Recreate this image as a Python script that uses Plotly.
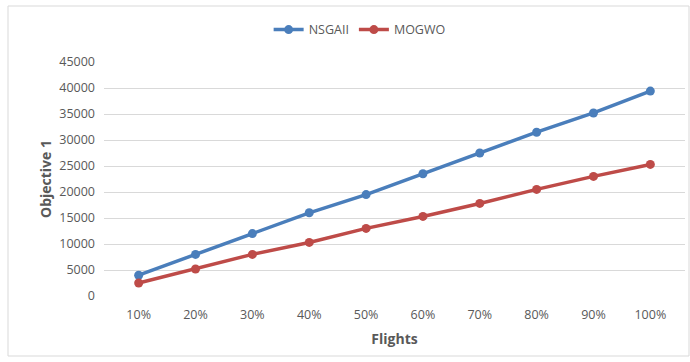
import plotly.graph_objects as go

flights = ["10%", "20%", "30%", "40%", "50%", "60%", "70%", "80%", "90%", "100%"]
nsgaii = [4000, 8000, 12000, 16000, 19500, 23500, 27500, 31500, 35200, 39400]
mogwo = [2500, 5200, 8000, 10300, 13000, 15300, 17800, 20500, 23000, 25300]
y_ticks = [0, 5000, 10000, 15000, 20000, 25000, 30000, 35000, 40000, 45000]

font_family = "Open Sans, Noto Sans, sans-serif"
text_gray = "#595959"

fig = go.Figure()
fig.add_trace(go.Scatter(
    x=flights, y=nsgaii, name="NSGAII", mode="lines+markers",
    line=dict(color="#4A7EBB", width=3.5),
    marker=dict(color="#4A7EBB", size=9),
))
fig.add_trace(go.Scatter(
    x=flights, y=mogwo, name="MOGWO", mode="lines+markers",
    line=dict(color="#BE4B48", width=3.5),
    marker=dict(color="#BE4B48", size=9),
))

fig.update_layout(
    width=690, height=362,
    margin=dict(l=104, r=5, t=62, b=66),
    paper_bgcolor="white", plot_bgcolor="white",
    font=dict(family=font_family, size=12, color=text_gray),
    showlegend=True,
    legend=dict(
        orientation="h", x=0.44, y=1.137, xanchor="center", yanchor="middle",
        font=dict(size=12.5, color=text_gray), itemwidth=30,
        traceorder="normal",
    ),
    xaxis=dict(
        type="category", showgrid=False, zeroline=False, showline=False,
        ticks="", tickfont=dict(size=12.5, color=text_gray), ticklabelstandoff=9,
        title=dict(text="<b>Flights</b>", font=dict(size=14, color=text_gray), standoff=12),
    ),
    yaxis=dict(
        range=[0, 45000], tickvals=y_ticks, ticktext=[str(v) for v in y_ticks],
        showgrid=True, gridcolor="#D9D9D9", gridwidth=1, zeroline=False,
        showline=False, ticks="", tickfont=dict(size=12.5, color=text_gray),
        ticklabelstandoff=8,
        title=dict(text="<b>Objective 1</b>", font=dict(size=14, color=text_gray), standoff=4),
    ),
    shapes=[dict(
        type="rect", xref="paper", yref="paper",
        x0=-96 / 581, x1=1.0 + 4 / 581, y0=-60 / 234, y1=1 + 56 / 234,
        line=dict(color="#D9D9D9", width=1), fillcolor="rgba(0,0,0,0)", layer="below",
    )],
)

fig.write_html("out.html")
